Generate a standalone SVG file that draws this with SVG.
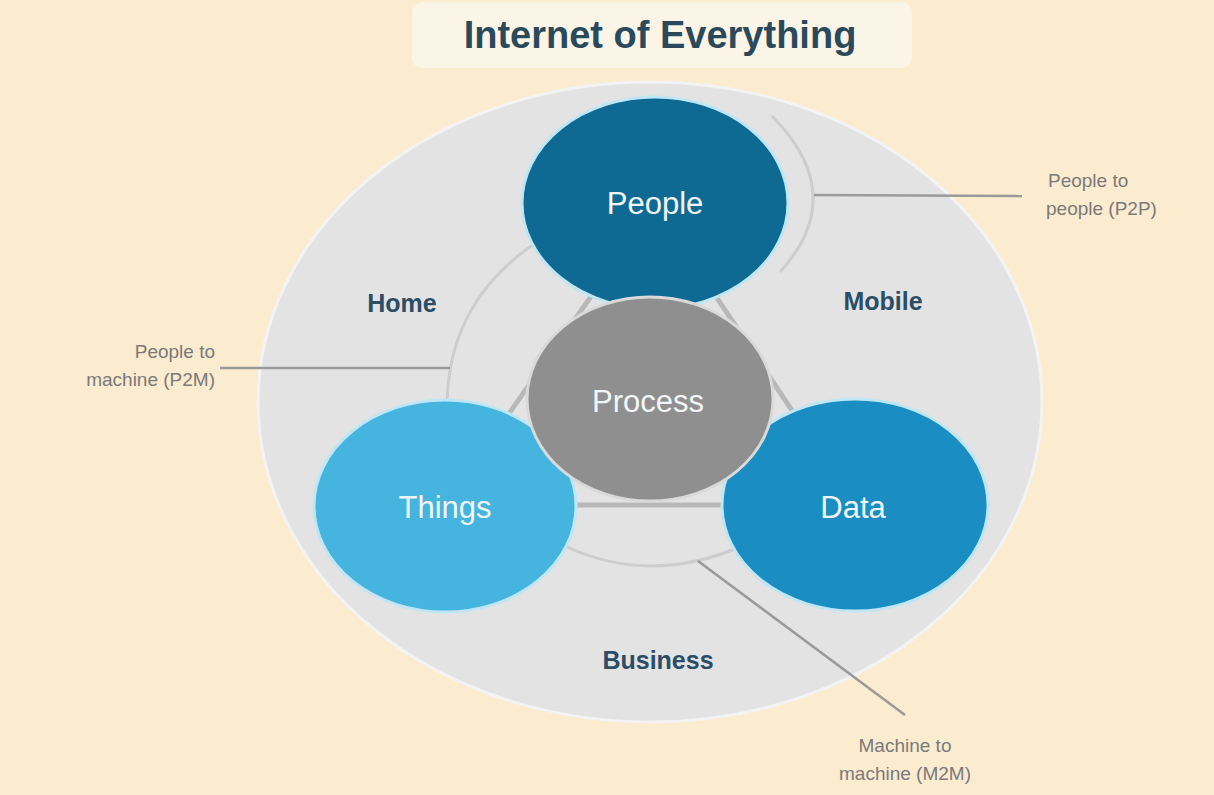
<svg xmlns="http://www.w3.org/2000/svg" width="1214" height="795" viewBox="0 0 1214 795">
<defs>
<style>
.title{font-family:"Liberation Sans",Arial,sans-serif;font-weight:bold;font-size:38px;fill:#2a4a5c}
.nl{font-family:"Liberation Sans",Arial,sans-serif;font-size:31px;fill:#f2f6f8;text-anchor:middle}
.zone{font-family:"Liberation Sans",Arial,sans-serif;font-weight:bold;font-size:25px;fill:#2b4d66;text-anchor:middle}
.ann{font-family:"Liberation Sans",Arial,sans-serif;font-size:19px;fill:#7a7a7a}
.lead{stroke:#9a9a9a;stroke-width:2.5;fill:none}
.tri{stroke:#b8b8b8;stroke-width:5;fill:none}
.ring{stroke:#cdcdcd;stroke-width:3;fill:none}
.halo{stroke:#bfe6f4;stroke-width:3}
</style>
</defs>
<rect width="1214" height="795" fill="#fbebcf"/>
<rect x="412" y="2" width="500" height="66" rx="10" fill="#fbf5e8"/>
<text class="title" x="660" y="48" text-anchor="middle">Internet of Everything</text>
<ellipse cx="650" cy="402" rx="392" ry="320" fill="#e3e3e3" stroke="#f3f3f3" stroke-width="3"/>
<g id="connectors">
<path class="ring" d="M 534 244 C 482 280 448 330 447 405"/>
<path class="ring" d="M 565 546 Q 650 586 742 546"/>
<path class="ring" d="M 772 116 Q 850 195 780 272"/>
<line class="tri" x1="655" y1="205" x2="445" y2="505"/>
<line class="tri" x1="655" y1="205" x2="855" y2="505"/>
<line class="tri" x1="445" y1="505" x2="855" y2="505"/>
<line class="lead" x1="220" y1="368" x2="450" y2="368"/>
<line class="lead" x1="814" y1="195" x2="1022" y2="196"/>
<line class="lead" x1="698" y1="561" x2="905" y2="715"/>
</g>
<g id="people">
<ellipse class="halo" cx="655" cy="203" rx="133" ry="106" fill="#0f6a93"/>
<text class="nl" x="655" y="214">People</text>
</g>
<g id="things">
<ellipse class="halo" cx="445" cy="506" rx="131" ry="106" fill="#45b4de"/>
<text class="nl" x="445" y="518">Things</text>
</g>
<g id="data">
<ellipse class="halo" cx="855" cy="505" rx="133" ry="106" fill="#1a8dc2"/>
<text class="nl" x="853" y="518">Data</text>
</g>
<g id="process">
<ellipse cx="650" cy="399" rx="123" ry="102" fill="#8f8f8f" stroke="#d9d9d9" stroke-width="3"/>
<text class="nl" x="648" y="412">Process</text>
</g>
<g id="zones">
<text class="zone" x="402" y="312">Home</text>
<text class="zone" x="883" y="310">Mobile</text>
<text class="zone" x="658" y="669">Business</text>
</g>
<g id="annotations">
<text class="ann" x="215" y="358" text-anchor="end">People to</text>
<text class="ann" x="215" y="386" text-anchor="end">machine (P2M)</text>
<text class="ann" x="1048" y="187">People to</text>
<text class="ann" x="1046" y="215">people (P2P)</text>
<text class="ann" x="905" y="752" text-anchor="middle">Machine to</text>
<text class="ann" x="905" y="780" text-anchor="middle">machine (M2M)</text>
</g>
</svg>
